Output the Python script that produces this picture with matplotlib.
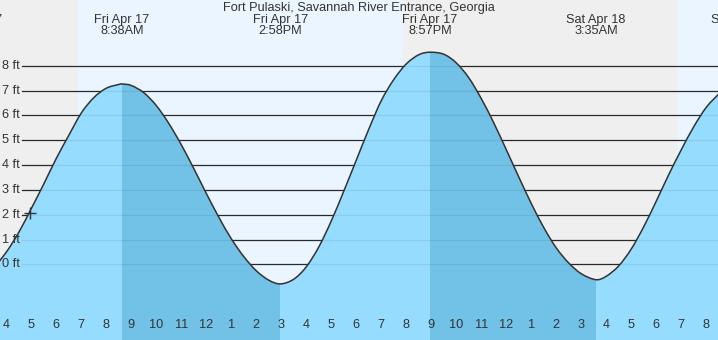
import matplotlib
matplotlib.use("Agg")
import matplotlib.pyplot as plt
import matplotlib.transforms as mtransforms
from matplotlib.path import Path
from matplotlib.patches import PathPatch
import numpy as np

plt.rcParams['font.family'] = ['Liberation Sans', 'DejaVu Sans']

title = "Fort Pulaski, Savannah River Entrance, Georgia"

# hours since midnight, Fri Apr 17 ; water level in ft
times = [3.5, 4.0, 4.5, 5.0, 5.5, 6.0, 6.5, 7.0, 7.5, 8.0, 8.5, 8.633,
         9.0, 9.5, 10.0, 10.5, 11.0, 11.5, 12.0, 12.5, 13.0, 13.5, 14.0, 14.5, 14.967,
         15.5, 16.0, 16.5, 17.0, 17.5, 18.0, 18.5, 19.0, 19.5, 20.0, 20.5, 20.95,
         21.5, 22.0, 22.5, 23.0, 23.5, 24.0, 24.5, 25.0, 25.5, 26.0, 26.5, 27.0, 27.583,
         28.0, 28.5, 29.0, 29.5, 30.0, 30.5, 31.0, 31.5, 32.0, 32.5]
heights = [-0.15, 0.49, 1.29, 2.25, 3.24, 4.27, 5.20, 6.10, 6.72, 7.10, 7.25, 7.27,
           7.21, 6.92, 6.40, 5.68, 4.82, 3.86, 2.86, 1.90, 1.03, 0.31, -0.26, -0.64, -0.79,
           -0.60, -0.10, 0.70, 1.75, 2.95, 4.20, 5.45, 6.60, 7.45, 8.08, 8.45, 8.55,
           8.47, 8.12, 7.52, 6.68, 5.70, 4.62, 3.52, 2.45, 1.48, 0.66, 0.05, -0.38, -0.62,
           -0.48, -0.06, 0.62, 1.52, 2.55, 3.62, 4.62, 5.55, 6.33, 6.87]

extreme_times = [2.75, 8.633, 14.967, 20.95, 27.583, 33.39]
extreme_dates = ["Fri Apr 17", "Fri Apr 17", "Fri Apr 17", "Fri Apr 17", "Sat Apr 18", "Sat Apr 18"]
extreme_clock = ["2:45AM", "8:38AM", "2:58PM", "8:57PM", "3:35AM", "9:23AM"]

falling_starts = [8.633, 20.95]
falling_ends = [14.967, 27.583]

sunrise_times = [6.87, 30.83]
sunset_times = [19.87]

ft_levels = [0, 1, 2, 3, 4, 5, 6, 7, 8]
ft_labels = ["0 ft", "1 ft", "2 ft", "3 ft", "4 ft", "5 ft", "6 ft", "7 ft", "8 ft"]

hour_ticks = list(range(4, 33))
hour_labels = ["4", "5", "6", "7", "8", "9", "10", "11", "12", "1", "2", "3", "4", "5",
               "6", "7", "8", "9", "10", "11", "12", "1", "2", "3", "4", "5", "6", "7", "8"]

midnight = 24
now_time = 4.95
now_height = 2.06

XMIN, XMAX = 3.748, 32.468
YMIN, YMAX = -3.052, 10.657

night_c = '#efefef'
day_c = '#ebf5ff'
fill_c = '#96dcff'
dark_c = '#72c1e6'
ink = '#333333'


def smooth_path_vertices(xs, ys):
    """Catmull-Rom style cubic Bezier through the given points."""
    P = np.column_stack([xs, ys]).astype(float)
    n = len(P)
    verts = [P[0]]
    codes = [Path.MOVETO]
    for i in range(n - 1):
        p0 = P[i - 1] if i > 0 else P[i]
        p1 = P[i]
        p2 = P[i + 1]
        p3 = P[i + 2] if i + 2 < n else P[i + 1]
        c1 = p1 + (p2 - p0) / 6.0
        c2 = p2 - (p3 - p1) / 6.0
        verts += [c1, c2, p2]
        codes += [Path.CURVE4] * 3
    return verts, codes


fig = plt.figure(figsize=(7.18, 3.40), dpi=100)
ax = fig.add_axes([0, 0, 1, 1])
ax.set_xlim(XMIN, XMAX)
ax.set_ylim(YMIN, YMAX)
for s in ax.spines.values():
    s.set_visible(False)
ax.set_yticks([])

# day / night background
ax.axvspan(XMIN - 5, sunrise_times[0], color=night_c, lw=0, zorder=0)
ax.axvspan(sunrise_times[0], sunset_times[0], color=day_c, lw=0, zorder=0)
ax.axvspan(sunset_times[0], sunrise_times[1], color=night_c, lw=0, zorder=0)
ax.axvspan(sunrise_times[1], XMAX + 5, color=day_c, lw=0, zorder=0)

# grid lines
gx0 = 21.7 / 718
for lv in ft_levels:
    ax.axhline(lv, xmin=gx0, xmax=1, color='#2a2a2a', lw=0.9, zorder=1)

cv, cc = smooth_path_vertices(times, heights)
wv = cv + [(times[-1], YMIN - 2), (times[0], YMIN - 2), (times[0], YMIN - 2)]
wc = cc + [Path.LINETO, Path.LINETO, Path.CLOSEPOLY]
water = PathPatch(Path(wv, wc), facecolor=fill_c, edgecolor='none', lw=0, zorder=2)
ax.add_patch(water)
for a, b in zip(falling_starts, falling_ends):
    sp = ax.axvspan(a, b, color=dark_c, lw=0, zorder=2.1)
    sp.set_clip_path(water)
# faint grid visible through water
for lv in ft_levels:
    gl = ax.axhline(lv, xmin=gx0, xmax=1, color='#000000', alpha=0.07, lw=0.9, zorder=3)
    gl.set_clip_path(water)

line = PathPatch(Path(cv, cc), facecolor='none', edgecolor='#333333', lw=1.1, zorder=4)
ax.add_patch(line)
ax.plot([now_time], [now_height], marker='+', ms=8.5, mew=1.0, color='#333333', zorder=5)

# y labels
ytr = mtransforms.blended_transform_factory(ax.transAxes, ax.transData)
for lv, lb in zip(ft_levels, ft_labels):
    ax.text(2 / 718, lv, lb, transform=ytr, ha='left', va='center', fontsize=9.2, color=ink, zorder=6)

# top labels
xtr = mtransforms.blended_transform_factory(ax.transData, ax.transAxes)
ax.text(0.5 * (XMIN + XMAX) - 0.02, 1 - 7.5 / 340, title, transform=xtr, ha='center', va='center',
        fontsize=9.2, color=ink, zorder=6)
for et, d, c in zip(extreme_times, extreme_dates, extreme_clock):
    ax.text(et, 1 - 19.5 / 340, d, transform=xtr, ha='center', va='center', fontsize=9.2, color=ink, zorder=6)
    ax.text(et, 1 - 31.5 / 340, c, transform=xtr, ha='center', va='center', fontsize=9.2, color=ink, zorder=6)

# bottom hour ticks
ax.set_xticks(hour_ticks)
ax.set_xticklabels([])
ax.tick_params(axis='x', direction='in', length=6, width=0.9, color='#333333')
for tk in ax.xaxis.get_major_ticks():
    if tk.get_loc() == midnight:
        tk.tick1line.set_markeredgewidth(3)
for ht, lb in zip(hour_ticks, hour_labels):
    ax.text(ht, 14.5 / 340, lb, transform=xtr, ha='center', va='center', fontsize=9.2, color=ink, zorder=6)

fig.savefig('out.png', dpi=100)
